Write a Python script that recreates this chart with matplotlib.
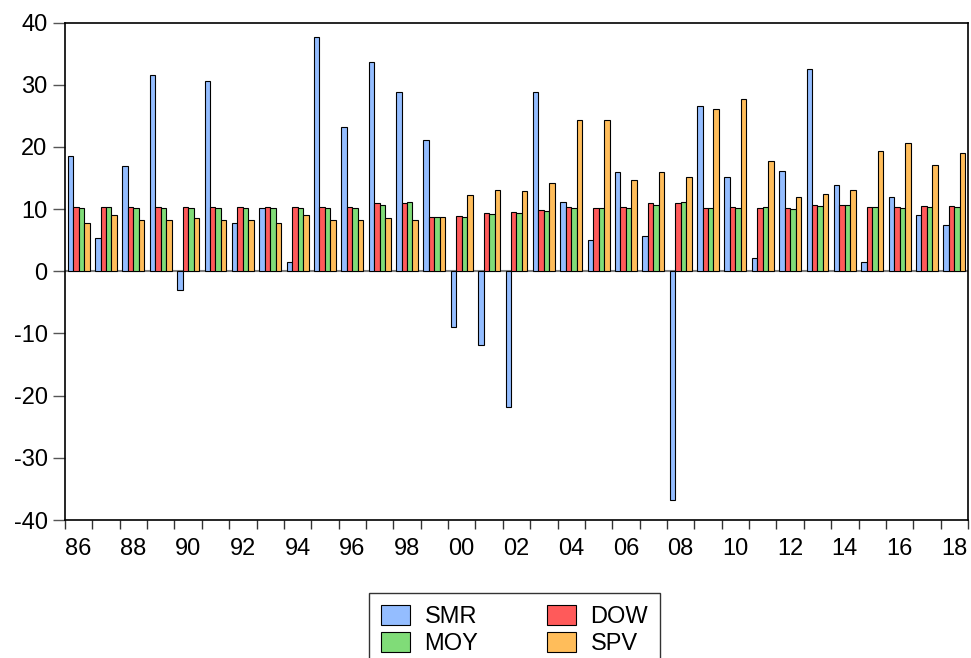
import numpy as np
import matplotlib
matplotlib.use("Agg")
import matplotlib.pyplot as plt

plt.rcParams['font.family'] = ['Liberation Sans', 'DejaVu Sans']
plt.rcParams['axes.unicode_minus'] = False

years = list(range(1986, 2019))
smr = [18.6, 5.3, 16.9, 31.6, -3.0, 30.6, 7.7, 10.2, 1.45, 37.7, 23.2, 33.6, 28.8,
       21.1, -9.0, -11.8, -21.9, 28.9, 11.1, 5.0, 15.9, 5.6, -36.8, 26.6, 15.2, 2.2,
       16.1, 32.5, 13.9, 1.45, 12.0, 9.1, 7.5]
dow = [10.3, 10.3, 10.3, 10.3, 10.3, 10.4, 10.3, 10.3, 10.3, 10.3, 10.4, 11.0, 11.0,
       8.7, 8.9, 9.35, 9.5, 9.8, 10.3, 10.1, 10.3, 11.0, 11.0, 10.2, 10.3, 10.2,
       10.1, 10.6, 10.7, 10.4, 10.3, 10.5, 10.5]
moy = [10.1, 10.3, 10.2, 10.2, 10.2, 10.2, 10.2, 10.2, 10.2, 10.1, 10.2, 10.6, 11.1,
       8.8, 8.8, 9.2, 9.35, 9.7, 10.1, 10.1, 10.2, 10.6, 11.1, 10.2, 10.2, 10.3,
       10.0, 10.5, 10.7, 10.4, 10.2, 10.3, 10.4]
spv = [7.7, 9.1, 8.2, 8.3, 8.5, 8.3, 8.3, 7.7, 9.1, 8.2, 8.3, 8.5, 8.3,
       8.7, 12.3, 13.1, 12.9, 14.2, 24.3, 24.3, 14.7, 15.9, 15.1, 26.1, 27.7, 17.8,
       12.0, 12.5, 13.1, 19.3, 20.7, 17.1, 19.0]

series = [("SMR", smr, "#94bdff"), ("DOW", dow, "#ff5a5a"),
          ("MOY", moy, "#80dc78"), ("SPV", spv, "#ffbd5a")]

fig = plt.figure(figsize=(9.71, 6.58), dpi=100)
ax = fig.add_axes([0.0669, 0.2097, 0.93, 0.756])

x = np.arange(len(years))
w = 0.2
bars = []
for k, (name, vals, col) in enumerate(series):
    b = ax.bar(x + 0.1 + w * (k + 0.5), vals, width=w, color=col,
               edgecolor="black", linewidth=0.8, label=name, zorder=2)
    bars.append(b)

ax.axhline(0, color="#808080", linewidth=1.5, zorder=1)

ax.set_xlim(0, len(years))
ax.set_ylim(-40, 40)
ax.set_yticks(np.arange(-40, 41, 10))
ax.tick_params(axis="y", direction="out", length=8.5, width=1, color="#555555",
               labelsize=17, pad=4)

# tick marks at group boundaries, labels every two years at group centres
ax.set_xticks(np.arange(len(years) + 1))
ax.set_xticklabels([])
ax.set_xticks(x[::2] + 0.5, minor=True)
ax.set_xticklabels([f"{y % 100:02d}" for y in years[::2]], minor=True)
ax.tick_params(axis="x", which="major", direction="out", length=6.5, width=1, color="#333333")
ax.tick_params(axis="x", which="minor", length=0, labelsize=17, pad=13)

for s in ax.spines.values():
    s.set_linewidth(1.2)
    s.set_color("black")

# row-major legend order: SMR DOW / MOY SPV
order = [0, 2, 1, 3]
leg = fig.legend([bars[i] for i in order], [series[i][0] for i in order],
                 loc="upper left", bbox_to_anchor=(0.380, 0.099), ncol=2,
                 fontsize=17, frameon=True, fancybox=False, edgecolor="black",
                 handlelength=1.25, handleheight=0.95, handletextpad=0.6,
                 columnspacing=2.9, labelspacing=0.15, borderpad=0.5,
                 borderaxespad=0)
leg.get_frame().set_linewidth(1.0)

fig.savefig("out.png", dpi=100)
